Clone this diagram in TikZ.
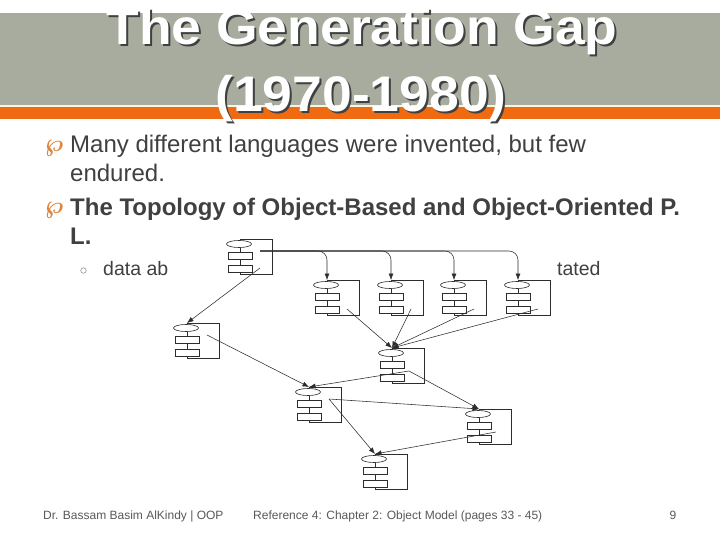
\documentclass[tikz,border=0pt]{standalone}
\usepackage{amsmath}
\usepackage{amssymb}
\usepackage{bm}
\usepackage{fontspec}
\setmainfont{Liberation Sans}
\usetikzlibrary{arrows.meta}

\definecolor{bandgray}{RGB}{168,172,158}
\definecolor{bandcream}{RGB}{250,245,222}
\definecolor{bandorange}{RGB}{240,106,18}
\definecolor{bodytext}{RGB}{64,64,64}
\definecolor{bulletorange}{RGB}{222,132,60}
\definecolor{footgray}{RGB}{89,89,89}
\definecolor{figline}{RGB}{45,45,45}

\tikzset{
  titlefont/.style={font=\fontsize{50}{50}\bfseries\selectfont, anchor=base, inner sep=0pt, xscale=1.07},
  bodyline/.style={font=\fontsize{24}{24}\selectfont, text=bodytext, anchor=base west, inner sep=0pt},
  subline/.style={font=\fontsize{19.5}{20}\selectfont, text=bodytext, anchor=base west, inner sep=0pt},
  footline/.style={font=\fontsize{12}{12}\selectfont, text=footgray, anchor=base west, inner sep=0pt},
  orbullet/.style={text=bulletorange, font=\fontsize{24}{24}\selectfont, inner sep=0pt},
  modline/.style={draw=figline, line width=0.6pt},
  conn/.style={figline, line width=0.55pt, -{Latex[length=6.5pt,width=5pt]}},
  module/.pic={
    \draw[modline] (15,35) -- (47,35) -- (47,0) -- (15,0) -- (15,35);
    \draw[modline, fill=white] (14,5) ellipse (12.5 and 3.5);
    \draw[modline, fill=white] (3,13) rectangle (27,20);
    \draw[modline, fill=white] (3,26) rectangle (27,33);
    \coordinate (-in) at (15,0);
    \coordinate (-hi) at (35,12);
    \coordinate (-mid) at (32,23);
    \coordinate (-lo) at (35,29);
  }
}

\begin{document}
\begin{tikzpicture}[x=1pt, y=-1pt]
  \useasboundingbox (0,0) rectangle (720,540);
  \fill[white] (0,0) rectangle (720,540);

  % header band
  \fill[bandgray] (0,13) rectangle (720,105);
  \fill[bandcream] (0,105) rectangle (720,107);
  \fill[bandorange] (0,107) rectangle (720,119);

  \node[titlefont, text=black!75] (shade1) at (364,47) {The Generation Gap};
  \node[titlefont, text=black!75] (shade2) at (363,114) {(1970-1980)};
  \node[titlefont, text=white] (title1) at (362,45) {The Generation Gap};
  \node[titlefont, text=white] (title2) at (361,112) {(1970-1980)};

  % bullets
  \node[orbullet] (bul1) at (54,148) {$\bm{\wp}$};
  \node[bodyline] (line1) at (70,153) {Many different languages were invented, but few};
  \node[bodyline] (line2) at (70,182) {endured.};
  \node[orbullet] (bul2) at (54,210) {$\bm{\wp}$};
  \node[bodyline, font=\fontsize{24}{24}\bfseries\selectfont] (line3) at (70,215) {The Topology of Object-Based and Object-Oriented P.};
  \node[bodyline, font=\fontsize{24}{24}\bfseries\selectfont] (line4) at (70,244) {L.};
  \node[circle, draw=gray, line width=0.5pt, inner sep=0pt, minimum size=5.5pt] (sub) at (83.5,270.5) {};
  \node[subline] (sub1) at (103,275) {data ab};
  \node[subline] (sub2) at (557,275) {tated};

  % modules
  \pic (A) at (225,239) {module};
  \pic (B1) at (312,280) {module};
  \pic (B2) at (376,280) {module};
  \pic (B3) at (439,280) {module};
  \pic (B4) at (503,280) {module};
  \pic (C) at (172,323) {module};
  \pic (D) at (377,348) {module};
  \pic (E) at (294,387) {module};
  \pic (F) at (464,409) {module};
  \pic (G) at (360,454) {module};

  \foreach \b in {B1,B2,B3,B4}
    \draw[conn, rounded corners=9pt] (A-hi) -| (\b-in);
  \draw[conn] (A-lo) -- (C-in);
  \foreach \b in {B1,B2,B3,B4}
    \draw[conn] (\b-lo) -- (D-in);
  \draw[conn] (C-hi) -- (E-in);
  \draw[conn] (D-mid) -- (E-in);
  \draw[conn] (D-mid) -- (F-in);
  \draw[conn] (E-hi) -- (F-in);
  \draw[conn] (E-hi) -- (G-in);
  \draw[conn] (F-mid) -- (G-in);

  % footer
  \node[footline] (foot1) at (43,519) {Dr. Bassam Basim AlKindy | OOP};
  \node[footline] (foot2) at (253,519) {Reference 4: Chapter 2: Object Model (pages 33 - 45)};
  \node[footline, anchor=base] (foot3) at (673,519) {9};
\end{tikzpicture}
\end{document}
